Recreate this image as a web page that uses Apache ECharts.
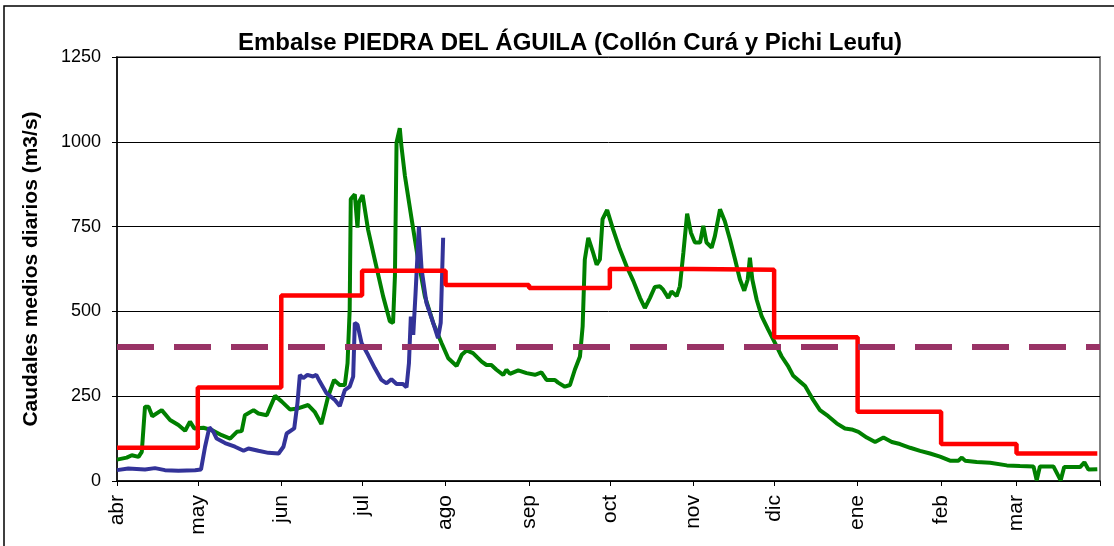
<!DOCTYPE html>
<html lang="es">
<head>
    <meta charset="UTF-8">
    <title>Embalse Piedra del Águila</title>
    <script src="https://cdn.jsdelivr.net/npm/echarts@6/dist/echarts.min.js"></script>
    <style>
        html, body { margin: 0; padding: 0; background: #fff; }
        #main { width: 1114px; height: 546px; }
    </style>
</head>
<body>
<div id="main"></div>
<script>
// meses (inicio de cada mes en dias desde el 1 de abril)
var monthNames = ['abr', 'may', 'jun', 'jul', 'ago', 'sep', 'oct', 'nov', 'dic', 'ene', 'feb', 'mar'];
var monthStarts = [0, 30, 61, 91, 122, 153, 183, 214, 244, 275, 306, 334];
var yearDays = 365;

// caudal diario (verde) - [dia, m3/s]
var greenPts = [[0,63],[3.6,69],[5.5,76],[8,71],[9.2,86],[10.4,219],[11.7,219],[13.1,191],[16.6,209],[19.7,180],[22.8,165],
    [25.3,148],[27.1,175],[28.7,155],[32.1,157],[35.2,150],[38.9,135],[42,125],[44.5,145],[46.3,147],[47.5,194],[50.7,209],
    [52.5,199],[55.6,194],[58.7,251],[61.2,234],[64.2,211],[67.2,214],[71,224],[73.4,204],[75.9,168],[76.6,170],[78.4,249],
    [80.6,298],[82.7,283],[84.6,283],[85.6,347],[86.4,505],[86.8,831],[88.3,845],[89.3,747],[89.8,821],[91.2,843],[93.2,742],
    [95.7,653],[98.8,545],[101.3,471],[102.5,466],[103.2,604],[103.8,998],[105,1040],[105.6,988],[106.9,900],[109.4,772],
    [111.8,653],[114.3,545],[117.4,466],[120.5,407],[123,362],[126.1,339],[128,372],[129.8,385],[132.2,377],[135.4,352],
    [137.2,342],[139,342],[140.9,328],[143.4,313],[144.6,328],[145.9,316],[149,326],[152.1,318],[155.2,313],[157.6,320],
    [159.5,298],[162.6,298],[163.8,290],[166.3,278],[168.2,283],[170,328],[171.9,367],[172.9,456],[173.7,653],[175,717],
    [176.6,678],[178.1,638],[179.3,653],[180.3,772],[182,799],[184.2,742],[186.7,683],[189.2,633],[191.7,590],[194.2,540],
    [196,510],[197.9,540],[199.7,572],[201.6,574],[202.8,564],[204.7,540],[205.9,559],[207.8,545],[209,574],[210.3,673],
    [211.7,788],[213.1,732],[214.6,703],[216.5,703],[217.7,752],[218.9,703],[220.8,688],[222,722],[223.9,801],[225.7,766],
    [227.6,712],[229.5,653],[231.3,594],[232.9,561],[234.2,594],[235,658],[235.9,594],[237.5,535],[239.4,485],[241.8,446],
    [244.3,407],[246.8,367],[249.3,337],[251.1,310],[253.6,293],[255.5,280],[258.5,239],[261,209],[264.1,191],[267.2,170],
    [270.3,155],[272.8,152],[275.3,145],[278.4,128],[281.5,115],[284.6,128],[287.7,115],[290.7,109],[294.5,98],[298.2,89],
    [301.9,81],[305.6,72],[309.3,60],[312.4,60],[313.7,69],[314.9,60],[319.2,56],[324.2,54],[330.4,46],[335.3,44],[340.3,43],
    [341.5,2],[342.7,43],[347.7,43],[350.4,2],[351.7,41],[357.6,41],[359.2,55],[360.7,34],[364,35]];

// caudal diario (azul) - solo hasta inicios de agosto
var bluePts = [[0,32],[4.2,37],[10.4,34],[14.1,38],[17.8,32],[22.8,30],[29,32],[31.2,34],[32.7,101],[34.3,158],[35.8,145],
    [37,125],[40.1,112],[43.8,101],[47,89],[48.8,96],[52.5,89],[56.2,83],[60,81],[61.8,101],[63,140],[65.8,155],[67,229],
    [67.9,313],[69.1,303],[70.7,313],[72.8,308],[74,313],[75.3,293],[77.8,259],[80.9,239],[82.7,221],[84.6,268],[86.4,278],
    [87.7,308],[88.3,466],[89.3,461],[90.8,407],[93.2,372],[95.7,333],[98.2,298],[100.1,288],[101.9,300],[103.8,286],
    [106.2,286],[107.5,276],[108.4,347],[109.1,485],[110,431],[110.8,545],[112.1,750],[113.1,624],[114.9,525],[117.4,466],
    [119.2,421],[120.2,466],[121.1,717]];

// medias mensuales (rojo)
var redMonthly = [98, 276, 547, 620, 578, 569, 625, 623, 424, 204, 109, 81];

// caudal medio (linea de trazos)
var meanFlow = 395;

var yTicks = [0, 250, 500, 750, 1000, 1250];

var font = 'Arial, "Liberation Sans", sans-serif';

var redPts = monthStarts.map(function (d, i) { return [d, redMonthly[i]]; });
redPts.push([yearDays - 1, redMonthly[redMonthly.length - 1]]);

var myChart = echarts.init(document.getElementById('main'));
myChart.setOption({
    animation: false,
    title: {
        text: 'Embalse PIEDRA DEL ÁGUILA (Collón Curá y Pichi Leufu)',
        left: 565,
        top: 26,
        textAlign: 'center',
        textStyle: { fontFamily: font, fontSize: 24, fontWeight: 'bold', color: '#000' }
    },
    graphic: [{
        type: 'rect',
        shape: { x: 4, y: 6, width: 1300, height: 700 },
        style: { fill: 'none', stroke: '#000', lineWidth: 1.5 },
        silent: true
    }],
    grid: {
        left: 117, right: 14, top: 57, bottom: 65,
        show: true, borderColor: '#808080', borderWidth: 2
    },
    xAxis: {
        type: 'value',
        min: 0,
        max: yearDays,
        splitLine: { show: false },
        axisLine: { lineStyle: { color: '#000', width: 1.5 } },
        axisTick: {
            show: true, length: 5, lineStyle: { color: '#000' },
            customValues: monthStarts.concat([yearDays])
        },
        axisLabel: {
            customValues: monthStarts,
            rotate: 90,
            margin: 14,
            fontFamily: font,
            fontSize: 21,
            color: '#000',
            formatter: function (v) {
                var i = monthStarts.indexOf(Math.round(v));
                return i >= 0 ? monthNames[i] : '';
            }
        }
    },
    yAxis: {
        type: 'value',
        min: yTicks[0],
        max: yTicks[yTicks.length - 1],
        interval: 250,
        name: 'Caudales medios diarios (m3/s)',
        nameLocation: 'middle',
        nameGap: 75,
        nameTextStyle: { fontFamily: font, fontSize: 21, fontWeight: 'bold', color: '#000' },
        axisLine: { show: true, lineStyle: { color: '#000', width: 1.5 } },
        axisTick: { show: true, length: 5, lineStyle: { color: '#000' } },
        splitLine: { lineStyle: { color: '#000', width: 1 } },
        axisLabel: {
            margin: 16, fontFamily: font, fontSize: 18, color: '#000',
            formatter: function (v) { return String(v); }
        }
    },
    series: [
        {
            name: 'verde', type: 'line', data: greenPts, showSymbol: false, z: 2,
            lineStyle: { color: '#008000', width: 4 }
        },
        {
            name: 'azul', type: 'line', data: bluePts, showSymbol: false, z: 3,
            lineStyle: { color: '#333399', width: 4 }
        },
        {
            name: 'rojo', type: 'line', data: redPts, step: 'end', showSymbol: false, z: 4,
            lineStyle: { color: '#ff0000', width: 4.5 }
        },
        {
            name: 'medio', type: 'line', data: [[0, meanFlow], [yearDays, meanFlow]], showSymbol: false, z: 5,
            lineStyle: { color: '#993366', width: 6, type: [37, 20] }
        }
    ]
});
</script>
</body>
</html>
